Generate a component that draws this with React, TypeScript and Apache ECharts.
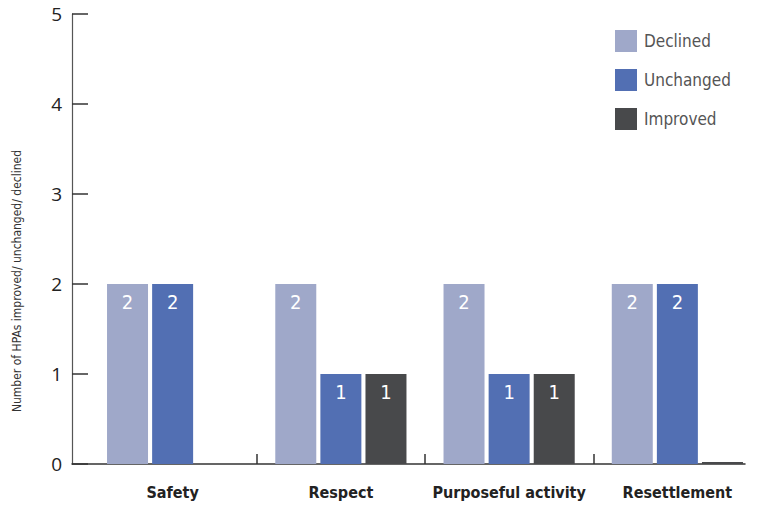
import React, { useEffect, useRef } from "react";
import * as echarts from "echarts";

const categories = ["Safety", "Respect", "Purposeful activity", "Resettlement"];
const declined = [2, 2, 2, 2];
const unchanged = [2, 1, 1, 2];
const improved: (number | null)[] = [null, 1, 1, 0];
const yTicks = { min: 0, max: 5, interval: 1 };
const yTitle = "Number of HPAs improved/ unchanged/ declined";

const COND = "'DejaVu Sans Condensed', 'Liberation Sans Narrow', 'Roboto', sans-serif";

export default function App() {
  const ref = useRef<HTMLDivElement>(null);
  useEffect(() => {
    document.body.style.margin = "0";
    const chart = echarts.init(ref.current!, null, { renderer: "svg" });
    const label = {
      show: true,
      position: "insideTop" as const,
      distance: 8,
      color: "#ffffff",
      fontSize: 20,
      fontFamily: COND,
      formatter: (p: any) => (p.value ? String(p.value) : ""),
    };
    chart.setOption({
      animation: false,
      backgroundColor: "#ffffff",
      grid: [
        { left: 88.5, width: 673, top: 14, bottom: 42, outerBoundsMode: "none", containLabel: false },
        { left: 72, right: 13, top: 14, bottom: 42, outerBoundsMode: "none", containLabel: false },
      ],
      legend: {
        orient: "vertical",
        left: 610,
        top: 25,
        icon: "rect",
        itemWidth: 22,
        itemHeight: 22,
        itemGap: 17,
        textStyle: { fontSize: 17, color: "#555", fontFamily: COND, padding: [0, 0, 0, 2] },
        data: ["Declined", "Unchanged", "Improved"],
      },
      xAxis: [
        {
          type: "category",
          gridIndex: 0,
          data: categories,
          axisLine: { show: false },
          axisTick: {
            show: true,
            inside: true,
            length: 10,
            interval: (i: number) => i > 0,
            lineStyle: { color: "#333", width: 1.5 },
          },
          axisLabel: {
            interval: 0,
            margin: 20,
            fontSize: 16,
            fontWeight: "bold",
            color: "#222",
            fontFamily: COND,
          },
        },
        {
          type: "value",
          gridIndex: 1,
          min: 0,
          max: 1,
          axisLine: { show: true, lineStyle: { color: "#333", width: 1.5 } },
          axisTick: { show: false },
          axisLabel: { show: false },
          splitLine: { show: false },
        },
      ],
      yAxis: [
        {
          type: "value",
          gridIndex: 0,
          min: yTicks.min,
          max: yTicks.max,
          interval: yTicks.interval,
          show: false,
          splitLine: { show: false },
        },
        {
          type: "value",
          gridIndex: 1,
          min: yTicks.min,
          max: yTicks.max,
          interval: yTicks.interval,
          axisLine: { show: true, lineStyle: { color: "#555", width: 1.2 } },
          axisTick: { show: true, inside: true, length: 16, lineStyle: { color: "#333", width: 1.5 } },
          axisLabel: {
            margin: 10,
            fontSize: 19,
            color: "#222",
            fontFamily: "'Open Sans', 'Noto Sans', sans-serif",
          },
          splitLine: { show: false },
        },
      ],
      graphic: [
        {
          type: "text",
          x: 17,
          y: 281,
          rotation: Math.PI / 2,
          style: {
            text: yTitle,
            fontSize: 12,
            fill: "#333",
            fontFamily: COND,
            align: "center",
            verticalAlign: "middle",
          },
        },
      ],
      series: [
        {
          name: "Declined",
          type: "bar",
          xAxisIndex: 0,
          yAxisIndex: 0,
          data: declined,
          barWidth: 41,
          barGap: "10%",
          itemStyle: { color: "#9fa8c9" },
          label,
        },
        {
          name: "Unchanged",
          type: "bar",
          xAxisIndex: 0,
          yAxisIndex: 0,
          data: unchanged,
          barWidth: 41,
          barGap: "10%",
          itemStyle: { color: "#526fb3" },
          label,
        },
        {
          name: "Improved",
          type: "bar",
          xAxisIndex: 0,
          yAxisIndex: 0,
          data: improved,
          barWidth: 41,
          barGap: "10%",
          barMinHeight: 2,
          itemStyle: { color: "#48494b" },
          label,
        },
      ],
    });
    return () => chart.dispose();
  }, []);
  return <div ref={ref} style={{ width: 758, height: 506 }} />;
}
